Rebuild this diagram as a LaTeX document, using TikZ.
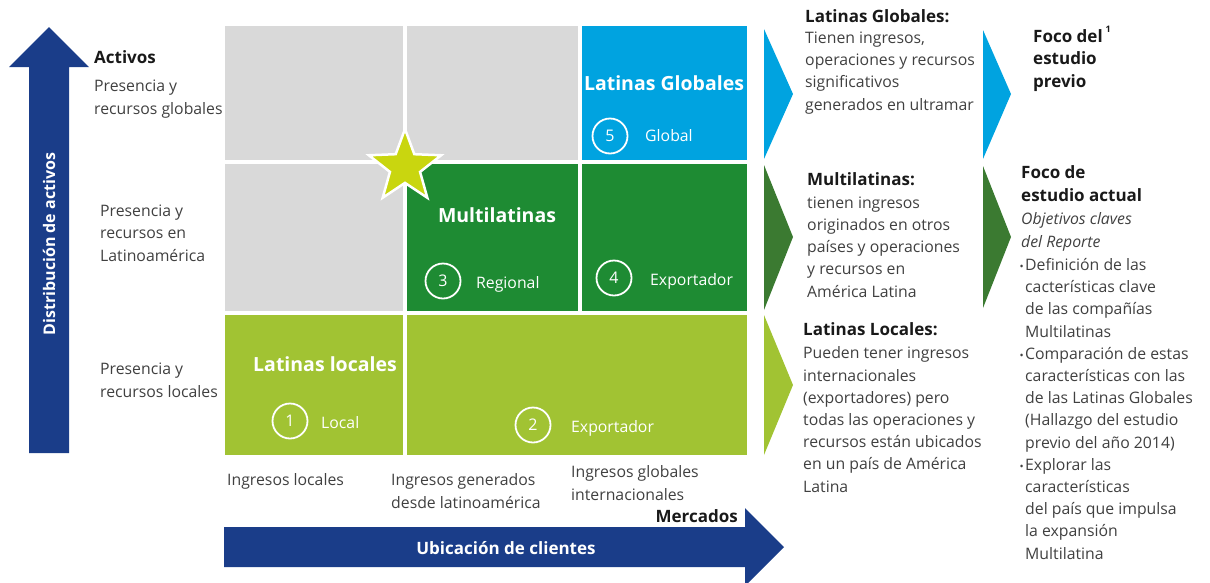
\documentclass[tikz,border=0pt]{standalone}
\usepackage{fontspec}
\setmainfont{Open Sans}
\usetikzlibrary{shapes.geometric}

\definecolor{gris}{HTML}{D9D9D9}
\definecolor{azulglobal}{HTML}{00A3E0}
\definecolor{verdemulti}{HTML}{1E8B33}
\definecolor{verdelocal}{HTML}{A1C333}
\definecolor{verdeoscuro}{HTML}{3B7A31}
\definecolor{azulflecha}{HTML}{1A3D89}
\definecolor{amarillo}{HTML}{C9D60F}
\definecolor{textogris}{HTML}{404040}

\newcommand{\bala}{\llap{\fontsize{11}{11}\selectfont\textbullet\hspace{1.5pt}}}

\tikzset{
  texto/.style={text=textogris, align=left, inner sep=0, anchor=base west, font=\fontsize{15.8}{22.2}\selectfont},
  titulo/.style={texto, text=black!90, font=\bfseries\fontsize{17}{22.2}\selectfont},
  rotulo/.style={text=white, inner sep=0, font=\bfseries\fontsize{19.5}{22}\selectfont},
  numero/.style={circle, draw=white, line width=1.8pt, minimum size=35pt, inner sep=0, text=white, font=\fontsize{16}{16}\selectfont},
  tipo/.style={text=white, inner sep=0, anchor=base west, font=\fontsize{15.8}{18}\selectfont},
}

\begin{document}
\begin{tikzpicture}[x=1pt,y=-1pt]
\useasboundingbox (0,0) rectangle (1210,582);
% Draw the grid cells
\fill[gris] (225,26) rectangle (403,160);
\fill[gris] (407,26) rectangle (578,160);
\fill[azulglobal] (582,26) rectangle (747,160);
\fill[gris] (225,164) rectangle (403,311);
\fill[verdemulti] (407,164) rectangle (578,311);
\fill[verdemulti] (582,164) rectangle (747,311);
\fill[verdelocal] (225,315) rectangle (403,455);
\fill[verdelocal] (407,315) rectangle (747,455);
% Draw the star on the corner
\node[star, star points=5, star point ratio=2.4, minimum size=76pt, inner sep=0, fill=amarillo, draw=white, line width=2.5pt] (estrella) at (405,167) {};
% Draw the names and types inside the cells
\node[rotulo] (lglobales) at (664,83) {Latinas Globales};
\node[numero] (n5) at (610,136) {5};
\node[tipo] (global) at (645,141) {Global};
\node[rotulo] (multilatinas) at (497,215) {Multilatinas};
\node[numero] (n3) at (443,281) {3};
\node[tipo] (regional) at (476,288) {Regional};
\node[numero] (n4) at (614,278) {4};
\node[tipo] (exportador1) at (650,285) {Exportador};
\node[rotulo] (llocales) at (325,364) {Latinas locales};
\node[numero] (n1) at (290,421) {1};
\node[tipo] (local) at (321,428) {Local};
\node[numero] (n2) at (533,425) {2};
\node[tipo] (exportador2) at (571,432) {Exportador};
% Draw the two axis arrows
\fill[azulflecha] (29,453) -- (29,67) -- (9,67) -- (49,27) -- (89,67) -- (69,67) -- (69,453) -- cycle;
\node[rotate=90, text=white, inner sep=0, font=\bfseries\fontsize{16}{18}\selectfont] (distribucion) at (49,244) {Distribución de activos};
\fill[azulflecha] (224,527) -- (745,527) -- (745,508) -- (784,547) -- (745,586) -- (745,567) -- (224,567) -- cycle;
\node[text=white, inner sep=0, font=\bfseries\fontsize{17}{18}\selectfont] (ubicacion) at (506,548) {Ubicación de clientes};
% Axis labels
\node[titulo] (activos) at (94,63) {Activos};
\node[texto] (pglobal) at (94,114) {Presencia y\\recursos globales};
\node[texto] (platam) at (100,261) {Presencia y\\recursos en\\Latinoamérica};
\node[texto] (plocal) at (100,397) {Presencia y\\recursos locales};
\node[texto] (ilocal) at (227,485) {Ingresos locales};
\node[texto] (ilatam) at (391,508) {Ingresos generados\\desde latinoamérica};
\node[texto] (iglobal) at (571,500) {Ingresos globales\\internacionales};
\node[titulo, anchor=base east] (mercados) at (738,522) {Mercados};
% Draw the chevrons
\fill[azulglobal] (764,29) -- (793,94) -- (764,159) -- cycle;
\fill[verdeoscuro] (764,165) -- (793,237) -- (764,310) -- cycle;
\fill[verdelocal] (764,315) -- (793,385) -- (764,455) -- cycle;
\fill[azulglobal] (983,30) -- (1011,94) -- (983,159) -- cycle;
\fill[verdeoscuro] (983,166) -- (1011,237) -- (983,308) -- cycle;
% Descriptions
\node[titulo] (tglobales) at (805,22) {Latinas Globales:};
\node[texto] (dglobales) at (805,110) {Tienen ingresos,\\operaciones y recursos\\significativos\\generados en ultramar};
\node[titulo] (tmulti) at (807,185) {Multilatinas:};
\node[texto] (dmulti) at (807,297) {tienen ingresos\\originados en otros\\países y operaciones\\y recursos en\\América Latina};
\node[titulo] (tlocales) at (803,335) {Latinas Locales:};
\node[texto] (dlocales) at (803,492) {Pueden tener ingresos\\internacionales\\(exportadores) pero\\todas las operaciones y\\recursos están ubicados\\en un país de América\\Latina};
% Focus of the studies
\node[titulo] (previo) at (1033,87) {Foco del\hspace{3pt}\raisebox{10pt}{\fontsize{9}{9}\selectfont 1}\\estudio\\previo};
\node[titulo] (actual) at (1021,201) {Foco de\\estudio actual};
\node[texto, font=\itshape\fontsize{15.8}{22.2}\selectfont] (objetivos) at (1021,247) {Objetivos claves\\del Reporte};
\node[texto] (objetivo1) at (1025,337) {\bala Definición de las\\cacterísticas clave\\de las compañías\\Multilatinas};
\node[texto] (objetivo2) at (1025,448) {\bala Comparación de estas\\características con las\\de las Latinas Globales\\(Hallazgo del estudio\\previo del año 2014)};
\node[texto] (objetivo3) at (1025,559) {\bala Explorar las\\características\\del país que impulsa\\la expansión\\Multilatina};
\end{tikzpicture}
\end{document}
